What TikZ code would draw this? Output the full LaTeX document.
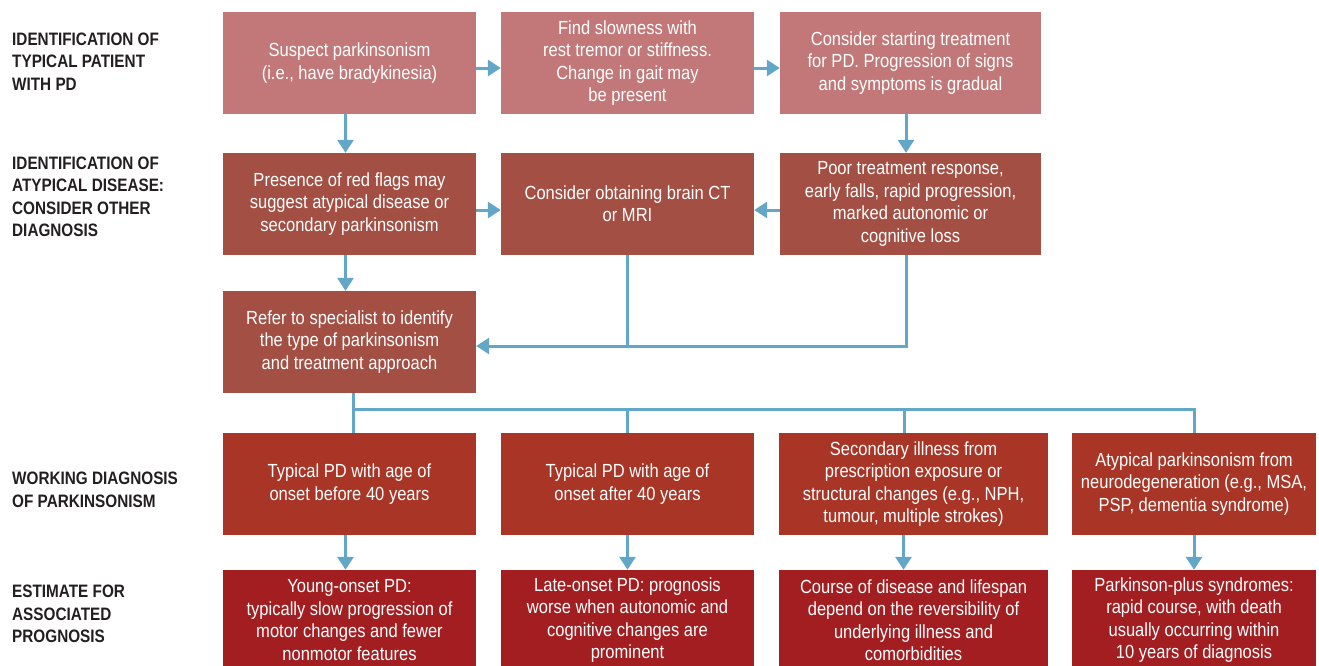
\documentclass[tikz,border=0pt]{standalone}
\usepackage{fontspec}
\setmainfont{Liberation Sans}
\newfontfamily\boxfont{Liberation Sans}[FakeStretch=0.87]
\newfontfamily\labfont{Liberation Sans}[FakeStretch=0.85]
\usetikzlibrary{arrows.meta}
\definecolor{rowA}{RGB}{194,120,120}
\definecolor{rowB}{RGB}{164,79,67}
\definecolor{rowC}{RGB}{168,53,37}
\definecolor{rowD}{RGB}{162,30,33}
\definecolor{conn}{RGB}{98,166,200}
\definecolor{labcol}{RGB}{35,31,32}
\begin{document}
\begin{tikzpicture}[x=1pt,y=-1pt,
  fbox/.style={rectangle, inner sep=0pt, minimum height=102pt, align=center,
    text=white, font=\boxfont\fontsize{19}{22.4}\selectfont},
  wA/.style={minimum width=253pt},
  wB/.style={minimum width=261pt},
  lab/.style={anchor=west, align=left, inner sep=0pt, text=labcol,
    font=\labfont\bfseries\fontsize{18}{22.5}\selectfont},
  line/.style={draw=conn, line width=3pt},
  arr/.style={line, -{Triangle[width=16pt,length=13pt]}}]
\useasboundingbox (0,0) rectangle (1319,665);
\begin{scope}
\clip (0,0) rectangle (1319,665);
% row 1
\node[fbox,wA,fill=rowA] (b1) at (349.5,63) {Suspect parkinsonism\\(i.e., have bradykinesia)};
\node[fbox,wA,fill=rowA] (b2) at (627.5,63) {Find slowness with\\rest tremor or stiffness.\\Change in gait may\\be present};
\node[fbox,wB,fill=rowA] (b3) at (910.5,63) {Consider starting treatment\\for PD. Progression of signs\\and symptoms is gradual};
% row 2
\node[fbox,wA,fill=rowB] (b4) at (349.5,204) {Presence of red flags may\\suggest atypical disease or\\secondary parkinsonism};
\node[fbox,wA,fill=rowB] (b5) at (627.5,204) {\raisebox{6pt}{\parbox{250pt}{\centering Consider obtaining brain CT\\or MRI}}};
\node[fbox,wB,fill=rowB] (b6) at (910.5,204) {Poor treatment response,\\early falls, rapid progression,\\marked autonomic or\\cognitive loss};
% row 3
\node[fbox,wA,fill=rowB] (b7) at (349.5,342) {Refer to specialist to identify\\the type of parkinsonism\\and treatment approach};
% row 4
\node[fbox,wA,fill=rowC] (c1) at (349.5,484) {Typical PD with age of\\onset before 40 years};
\node[fbox,wA,fill=rowC] (c2) at (627.5,484) {Typical PD with age of\\onset after 40 years};
\node[fbox,minimum width=269pt,fill=rowC] (c3) at (913.5,484) {Secondary illness from\\prescription exposure or\\structural changes (e.g., NPH,\\tumour, multiple strokes)};
\node[fbox,minimum width=244pt,fill=rowC] (c4) at (1194,484) {Atypical parkinsonism from\\neurodegeneration (e.g., MSA,\\PSP, dementia syndrome)};
% row 5
\node[fbox,wA,minimum height=100pt,fill=rowD] (d1) at (349.5,620) {Young-onset PD:\\typically slow progression of\\motor changes and fewer\\nonmotor features};
\node[fbox,wA,minimum height=100pt,fill=rowD] (d2) at (627.5,620) {Late-onset PD: prognosis\\worse when autonomic and\\cognitive changes are\\prominent};
\node[fbox,minimum width=269pt,minimum height=100pt,fill=rowD] (d3) at (913.5,620) {Course of disease and lifespan\\depend on the reversibility of\\underlying illness and\\comorbidities};
\node[fbox,minimum width=244pt,minimum height=100pt,fill=rowD] (d4) at (1194,620) {Parkinson-plus syndromes:\\rapid course, with death\\usually occurring within\\10 years of diagnosis};
\end{scope}
% left labels
\node[lab] (l1) at (12,61.5) {IDENTIFICATION OF\\TYPICAL PATIENT\\WITH PD};
\node[lab] (l2) at (12,197) {IDENTIFICATION OF\\ATYPICAL DISEASE:\\CONSIDER OTHER\\DIAGNOSIS};
\node[lab] (l3) at (12,490) {WORKING DIAGNOSIS\\OF PARKINSONISM};
\node[lab] (l4) at (12,614) {ESTIMATE FOR\\ASSOCIATED\\PROGNOSIS};
% connectors
\draw[arr] ([yshift=-5pt]b1.east) -- ([yshift=-5pt]b2.west);
\draw[arr] ([yshift=-5pt]b2.east) -- ([yshift=-5pt]b3.west);
\draw[arr] ([xshift=-4pt]b1.south) -- ([xshift=-4pt]b4.north);
\draw[arr] ([xshift=-4.5pt]b3.south) -- ([xshift=-4.5pt]b6.north);
\draw[arr] ([yshift=-6pt]b4.east) -- ([yshift=-6pt]b5.west);
\draw[arr] ([yshift=-6pt]b6.west) -- ([yshift=-6pt]b5.east);
\draw[arr] ([xshift=-4pt]b4.south) -- ([xshift=-4pt]b7.north);
\coordinate (m) at (627.5,346);
\draw[line] (b5.south) -- (m);
\draw[arr] ([xshift=-4.5pt]b6.south) |- ([yshift=-4pt]b7.east);
\coordinate (busL) at (353,409);
\coordinate (busR) at (1194,409);
\draw[line] ([xshift=3.5pt]b7.south) -- ([xshift=3.5pt]c1.north);
\draw[line] (busL) -- (busR) -- (c4.north);
\draw[line] (c2.north |- busL) -- (c2.north);
\draw[line] ([xshift=-9.5pt]c3.north |- busL) -- ([xshift=-9.5pt]c3.north);
\draw[arr] ([xshift=-4pt]c1.south) -- ([xshift=-4pt]d1.north);
\draw[arr] (c2.south) -- (d2.north);
\draw[arr] ([xshift=-10pt]c3.south) -- ([xshift=-10pt]d3.north);
\draw[arr] (c4.south) -- (d4.north);
\end{tikzpicture}
\end{document}
